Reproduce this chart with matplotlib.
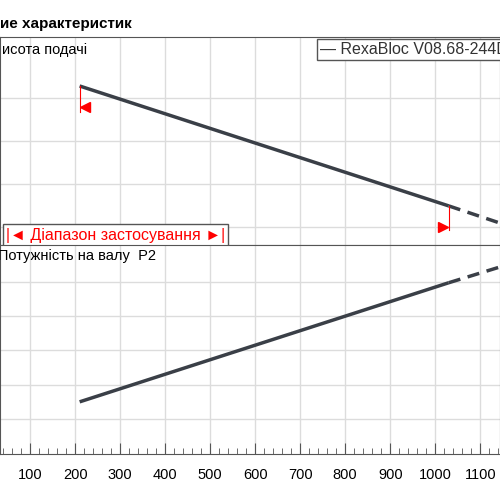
import matplotlib
matplotlib.use("Agg")
import matplotlib.pyplot as plt
import numpy as np

plt.rcParams['font.family'] = ['Liberation Sans', 'DejaVu Sans']

# data (flow axis, arbitrary grid units on y)
q_solid = [210, 1030]
q_dash = [1030, 1144]
head_solid = [3.28, 0.49]
head_dash = [0.49, 0.09]
power_solid = [0.5, 3.97]
power_dash = [3.97, 4.43]
xticks = [100, 200, 300, 400, 500, 600, 700, 800, 900, 1000, 1100]
range_min, range_max = 210, 1030

fig = plt.figure(figsize=(5, 5), dpi=100)
XL = (33, 1144)
lc = '#3a3f47'
gc = '#dcdcdc'

ax1 = fig.add_axes([0, 0.51, 1, 0.416])
ax2 = fig.add_axes([0, 0.092, 1, 0.418])
for ax in (ax1, ax2):
    ax.set_xlim(*XL)
    for s in ax.spines.values():
        s.set_color('#555555')
    for x in xticks:
        ax.axvline(x, color=gc, lw=1, zorder=0)
    ax.set_yticks([])

ax1.set_ylim(-0.42, 4.42)
for y in range(4):
    ax1.axhline(y, color=gc, lw=1, zorder=0)
ax2.set_ylim(-1.02, 5.07)
for y in range(5):
    ax2.axhline(y, color=gc, lw=1, zorder=0)

ax1.plot(q_solid, head_solid, color=lc, lw=2.5, solid_capstyle='butt')
ax1.plot(q_dash, head_dash, color=lc, lw=2.5, dashes=(3.5, 2.2))
ax2.plot(q_solid, power_solid, color=lc, lw=2.5, solid_capstyle='butt')
ax2.plot(q_dash, power_dash, color=lc, lw=2.5, dashes=(3.5, 2.2))

# range markers
ax1.plot([range_min, range_min], [head_solid[0], head_solid[0] - 0.6], color='red', lw=0.8)
ax1.plot(range_min + 12, head_solid[0] - 0.48, marker='<', color='red', ms=7)
ax1.plot([range_max, range_max], [head_solid[1], head_solid[1] - 0.55], color='red', lw=0.8)
ax1.plot(range_max - 12, head_solid[1] - 0.48, marker='>', color='red', ms=7)

ax1.set_xticks([])
ax2.set_xticks(xticks)
ax2.set_xticks(np.arange(40, 1144, 20), minor=True)
ax2.tick_params(axis='x', which='major', direction='in', length=8, labelsize=10.5, pad=10, color='#555555')
ax2.tick_params(axis='x', which='minor', direction='in', length=4, color='#555555')

ax1.text(0.005, 0.97, 'исота подачі', transform=ax1.transAxes, fontsize=10.5, va='top')
ax2.text(-0.004, 0.98, 'Потужність на валу  P2', transform=ax2.transAxes, fontsize=10.5, va='top')
fig.text(0.0, 0.952, 'ие характеристик', fontsize=11, fontweight='bold', va='center')

ax1.text(0.64, 0.975, '— RexaBloc V08.68-244D', transform=ax1.transAxes, fontsize=11.5, va='top',
         color='#333333', bbox=dict(boxstyle='square,pad=0.2', fc='white', ec='#555555', lw=1))
ax1.text(0.012, 0.012, '|◄ Діапазон застосування ►|', transform=ax1.transAxes, fontsize=11.5,
         color='red', va='bottom',
         bbox=dict(boxstyle='square,pad=0.2', fc='white', ec='#555555', lw=1))

fig.savefig('out.png', dpi=100)
